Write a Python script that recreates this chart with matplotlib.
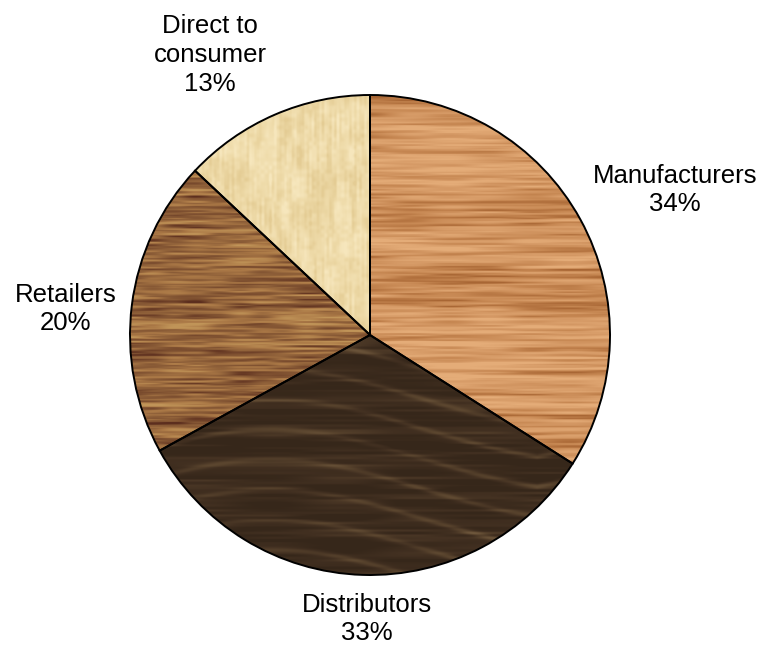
import numpy as np
import matplotlib
matplotlib.use("Agg")
import matplotlib.pyplot as plt

# channel shares
labels = ["Manufacturers", "Distributors", "Retailers", "Direct to\nconsumer"]
shares = [34, 33, 20, 13]

W, H = 778, 646
cx, cy, R = 370, H - 335, 240
# label anchor points (pixels from top-left)
label_xy = [(675, 190), (367, 619), (66, 309), (210, 55)]

plt.rcParams["font.family"] = ["Liberation Sans", "DejaVu Sans"]


def vnoise(x, y, sx, sy, seed):
    # smooth value noise built from a sine hash
    gx, gy = x / sx, y / sy
    ix, iy = np.floor(gx), np.floor(gy)
    fx, fy = gx - ix, gy - iy
    fx = fx * fx * (3 - 2 * fx)
    fy = fy * fy * (3 - 2 * fy)

    def h(i, j):
        v = np.sin(i * 127.1 + j * 311.7 + seed * 74.7) * 43758.5453
        return v - np.floor(v)

    a, b = h(ix, iy), h(ix + 1, iy)
    c, d = h(ix, iy + 1), h(ix + 1, iy + 1)
    top = a + (b - a) * fx
    bot = c + (d - c) * fx
    return top + (bot - top) * fy


def colourise(t, stops, cols):
    cols = np.array(cols, dtype=float) / 255.0
    out = np.empty(t.shape + (3,))
    for k in range(3):
        out[..., k] = np.interp(t, stops, cols[:, k])
    return out


n = 2 * R
yy, xx = np.mgrid[0:n, 0:n].astype(float)

# light oak, long horizontal streaks
t = (0.45 * vnoise(xx, yy, 110, 2.6, 1) + 0.3 * vnoise(xx, yy, 40, 1.6, 2)
     + 0.25 * vnoise(xx, yy, 300, 14, 3))
tex_man = colourise(t, [0.2, 0.4, 0.55, 0.75],
                    [(168, 102, 52), (198, 135, 82), (212, 152, 100), (228, 172, 120)])

# dark walnut with soft wavy figure
base = 0.6 * vnoise(xx, yy, 70, 2.5, 4) + 0.4 * vnoise(xx, yy, 220, 14, 5)
w = yy + 16 * np.sin(xx / 85.0) + 25 * np.abs(np.sin(xx / 160.0 + 0.6))
band = np.exp(-((((w / 30.0) % 1.0) - 0.5) / 0.1) ** 2)
band *= 0.4 + 0.6 * vnoise(xx, yy, 70, 40, 6)
t = 0.6 * base + 0.45 * band
tex_dis = colourise(t, [0.2, 0.4, 0.65, 0.9],
                    [(54, 39, 26), (66, 48, 33), (88, 67, 45), (110, 87, 60)])

# mid brown, streaky with golden and reddish lines
t = (0.5 * vnoise(xx, yy, 60, 2.2, 7) + 0.3 * vnoise(xx, yy, 22, 1.5, 8)
     + 0.2 * vnoise(xx, yy, 250, 12, 9))
tex_ret = colourise(t, [0.15, 0.32, 0.48, 0.62, 0.82],
                    [(92, 46, 30), (122, 76, 46), (145, 98, 58), (170, 120, 70), (192, 148, 88)])

# pale maple, faint texture
t = (0.4 * vnoise(xx, yy, 2.5, 30, 10) + 0.35 * vnoise(xx, yy, 14, 14, 11)
     + 0.25 * vnoise(xx, yy, 4, 4, 12))
tex_dir = colourise(t, [0.2, 0.5, 0.8],
                    [(228, 204, 148), (238, 218, 168), (246, 230, 188)])

textures = [tex_man, tex_dis, tex_ret, tex_dir]

fig = plt.figure(figsize=(W / 100, H / 100), dpi=100)
ax = fig.add_axes([0, 0, 1, 1])
wedges, _ = ax.pie(shares, center=(cx, cy), radius=R, startangle=90,
                   counterclock=False,
                   wedgeprops=dict(facecolor="none", edgecolor="black",
                                   linewidth=1.4))
for wdg, tex in zip(wedges, textures):
    wdg.set_zorder(3)
    im = ax.imshow(tex, extent=(cx - R, cx + R, cy - R, cy + R),
                   origin="upper", interpolation="bilinear", zorder=2)
    im.set_clip_path(wdg)

for (lx, ly), lab, s in zip(label_xy, labels, shares):
    ax.text(lx, H - ly, f"{lab}\n{s}%", ha="center", va="center",
            fontsize=18.5, linespacing=1.25, color="black")

ax.set_xlim(0, W)
ax.set_ylim(0, H)
ax.set_aspect("equal")
ax.axis("off")
fig.savefig("out.png", dpi=100)
